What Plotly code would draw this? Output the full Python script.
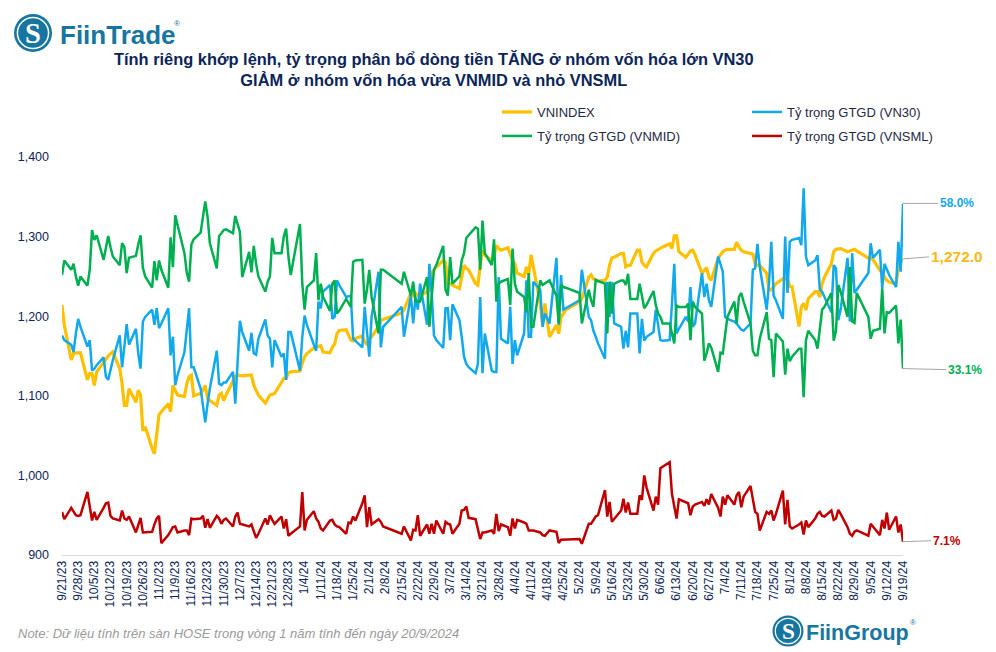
import pandas as pd
import plotly.graph_objects as go

N = None
# One row per week, Thu Fri Mon Tue Wed. N marks market holidays.
dates = pd.bdate_range("2023-09-21", "2024-09-19")

vnindex = [
 1214,1189,1145,1153,1154, 1154,1154,1120,1128,1128, 1113,1130,1143,1147,1150, 1153,1155,1134,1115,1088,
 1088,1109,1092,1107,1101, 1056,1061,1034,1027,1052, 1076,1080,1090,1080,1113, 1107,1101,1099,1115,1124,
 1126,1100,1103,1107,1113, 1097,1094,1088,1101,1103, 1094,1101,1120,1124,1126, 1125,1125,1126,1126,1113,
 1107,1101,1091,1097,1101, 1102,1103,1117,1122,1122, 1129,1130,N,1131,1141, 1149,1153,1160,1161,1162,
 1163,1155,1154,1161,1165, 1178,1182,1183,1176,1170, 1169,1172,1175,1168,1164, 1172,1174,1187,1195,1196,
 N,N,N,N,N, 1204,1208,1229,1226,1229, 1226,1225,1231,1233,1254, 1258,1262,1270,1268,1241,
 1241,1239,1235,1249,1264, 1260,1258,1241,1239,1264, 1283,1277,1270,1275,1289, 1285,1283,1286,1279,1270,
 1266,1254,1250,1262,1252, 1277,1262,1216,1189,1216, N,1174,1189,1178,1199, 1203,1208,N,N,N,
 1218,1222,1249,1252,1247, 1245,1244,1245,1249,1264, 1273,1274,1279,1279,1262, 1264,1264,1283,1283,1268,
 1264,1262,1279,1282,1284, 1286,1287,1291,1285,1301, 1301,1281,1274,1278,1282, 1283,1277,1254,1258,1261,
 1249,1245,1273,1277,1281, 1283,1284,1284,1293,1287, 1283,1281,1279,1278,1266, 1264,1264,1254,1233,1233,
 1237,1241,1247,1247,1247, 1237,1237,1187,1212,1216, 1208,1222,1231,1231,1224, 1241,1249,1266,1281,1284,
 1285,1285,1281,1282,1283, 1284,1282,N,N,1273, 1273,1271,1258,1254,1249, 1245,1243,1241,1260,1268,
 1272,
]
# Shares below are read against the left-hand scale; the hidden right-hand axis turns them into %.
vn30_read = [
 1176,1170,1164,1155,1178, 1197,1187,1162,1170,1132, 1134,1138,1148,1124,1120, 1134,1145,1176,1136,1162,
 1190,1164,1184,1153,1134, 1193,1199,1208,1189,1210, 1185,1191,1210,1151,1174, 1113,1126,1155,1187,1210,
 1136,1136,1109,1086,1067, 1090,1109,1157,1115,1113, 1117,1117,1130,1090,1136, 1194,1180,1157,1179,1153,
 1152,1172,1196,1176,1172, 1136,1170,1149,1153,1120, 1180,1180,N,1132,1174, 1201,1189,1164,1157,1218,
 1210,1231,1239,1197,1199, 1245,1239,1224,1225,1226, 1172,1169,1161,1212,1178, 1149,1199,1256,1161,1187,
 N,N,N,N,N, 1212,1174,1226,1191,1224, 1208,1241,1189,1266,1229, 1176,1170,1160,1210,1210,
 1170,1215,1195,1174,1149, 1140,1136,1128,1140,1224, 1128,1178,1132,1130,1130, 1249,1172,1166,1212,1140,
 1170,1151,1178,1245,1174, 1174,1243,1233,1187,1203, N,1191,1273,1189,1252, 1208,1210,N,N,N,
 1220,1258,1199,1195,1182, 1174,1166,1147,1243,1199, 1243,1191,1187,1159,1182, 1161,1203,1203,1153,1197,
 1169,1174,1180,1208,1187, 1170,1169,1170,1216,1266, 1178,1184,1199,1193,1237, 1187,1191,1254,1224,1241,
 1220,1212,1275,1266,1256, 1199,1197,1193,1191,1187, 1183,1182,1191,1258,1260, 1291,1262,1208,1241,1293,
 1226,1220,1197,1300,1229, 1293,1296,1298,1289,1361, 1275,1264,1270,1277,1233, 1231,1224,1205,1264,1260,
 1195,1208,1273,1193,1279, 1229,1233,N,N,1254, 1292,1273,1283,1235,1266, 1258,1252,1237,1293,1256,
 1342,
]
vnmid_read = [
 1252,1270,1258,1266,1250, 1238,1250,1238,1258,1308, 1296,1302,1271,1287,1301, 1287,1275,1264,1292,1287,
 1254,1273,1276,1290,1302, 1261,1250,1236,1269,1245, 1270,1258,1236,1299,1262, 1327,1315,1279,1255,1243,
 1290,1297,1305,1326,1344, 1325,1292,1260,1301,1304, 1308,1309,1304,1326,1317, 1306,1249,1281,1255,1288,
 1266,1250,1231,1243,1250, 1298,1279,1279,1300,1310, 1275,1252,N,1316,1241, 1208,1237,1245,1279,1220,
 1241,1224,1207,1241,1245, 1203,1207,1222,1216,1212, 1268,1270,1271,1216,1233, 1258,1224,1178,1258,1258,
 N,N,N,N,N, 1241,1256,1226,1243,1218, 1218,1218,1249,1187,1224, 1258,1264,1288,1233,1226,
 1274,1241,1250,1270,1279, 1298,1302,1312,1310,1258, 1320,1279,1264,1297,1218, 1241,1243,1247,1214,1285,
 1241,1231,1224,1205,1254, 1187,1187,1245,1239,1241, N,1245,1226,1191,1239, 1237,1236,N,N,N,
 1229,1191,1233,1220,1212, 1246,1244,1241,1178,1243, 1203,1241,1245,1245,1239, 1253,1222,1222,1241,1226,
 1210,1214,1232,1214,1203, 1199,1191,1191,1178,1166, 1213,1212,1212,1216,1170, 1218,1212,1203,1144,1153,
 1166,1161,1130,1154,1153, 1178,1199,1218,1191,1224, 1229,1218,1191,1157,1151, 1151,1172,1205,1172,1170,
 1123,1178,1168,1127,1159, 1143,1149,1159,1159,1098, 1170,1182,1170,1159,1182, 1208,1212,1229,1169,1182,
 1239,1231,1199,1262,1193, 1192,1229,N,N,1199, 1172,1182,1184,1235,1178, 1205,1204,1213,1166,1196,
 1134,
]
vnsml_read = [
 954,945,959,954,950, 949,950,979,961,943, 954,944,959,965,966, 949,946,943,956,946,
 944,948,928,938,947, 928,928,929,938,946, 949,915,925,931,935, 936,928,931,931,925,
 946,945,946,949,934, 945,934,949,946,939, 944,946,936,948,953, 939,938,936,938,929,
 922,927,946,938,950, 944,939,948,933,945, 924,927,N,936,979, 931,944,955,946,942,
 933,931,943,944,938, 936,935,927,941,940, 948,943,965,975,935, 960,938,945,942,936,
 N,N,N,N,N, 927,936,918,932,931, 950,924,938,927,939, 927,943,927,942,939,
 938,927,939,956,957, 961,947,945,931,920, 928,928,931,927,952, 930,938,935,924,946,
 933,944,941,939,931, 931,931,928,925,924, N,931,929,915,919, 919,919,N,N,N,
 920,914,939,939,944, 948,950,982,948,967, 942,945,956,971,953, 966,952,952,975,969,
 1000,985,956,973,963, 1009,1011,1017,977,961, 946,970,966,965,950, 961,963,967,962,970,
 963,977,959,948,973, 963,975,963,975,979, 960,973,987,969,954, 952,931,954,952,956,
 943,952,981,938,969, 936,933,938,941,926, 943,935,946,952,954, 949,948,956,944,946,
 957,952,935,927,924, 929,931,N,N,924, 939,936,925,944,933, 953,932,948,928,938,
 917,
]
share = lambda a: [None if v is None else round(5 + (v - 900) * 0.12, 1) for v in a]
vn30, vnmid, vnsml = share(vn30_read), share(vnmid_read), share(vnsml_read)
names = ["VNINDEX", "Tỷ trọng GTGD (VN30)", "Tỷ trọng GTGD (VNMID)", "Tỷ trọng GTGD (VNSML)"]
colors = ["#FFC000", "#12A9EC", "#00B050", "#C00000"]
title_lines = "Tính riêng khớp lệnh, tỷ trọng phân bổ dòng tiền TĂNG ở nhóm vốn hóa lớn VN30<br>GIẢM ở nhóm vốn hóa vừa VNMID và nhỏ VNSML"
note = "Note: Dữ liệu tính trên sàn HOSE trong vòng 1 năm tính đến ngày 20/9/2024"

W, H = 996, 652
L, R, T, B = 62, 903, 157, 555
px = lambda x: (x - L) / (R - L)
py = lambda y: (B - y) / (B - T)
FONT = "Liberation Sans"
NAVY = "#0B2559"
TEAL = "#17769F"

fig = go.Figure()
fig.add_scatter(x=dates, y=vnindex, name=names[0], mode="lines", connectgaps=True, cliponaxis=False,
                line=dict(color=colors[0], width=3.2), legend="legend")
for vals, nm, c, lg in zip([vn30, vnmid, vnsml], names[1:], colors[1:], ["legend", "legend2", "legend2"]):
    fig.add_scatter(x=dates, y=vals, name=nm, yaxis="y2", mode="lines", connectgaps=True, cliponaxis=False,
                    line=dict(color=c, width=2.5), legend=lg)

def end_label(text, y, yref, color, size, ax, ay):
    fig.add_annotation(x=dates[-1], y=y, xref="x", yref=yref, text=f"<b>{text}</b>", showarrow=True,
                       arrowhead=0, arrowwidth=1, arrowcolor="#A6A6A6", ax=ax, ay=ay, standoff=0,
                       font=dict(family=FONT, size=size, color=color), xanchor="left", yanchor="middle")

end_label("58.0%", vn30[-1], "y2", colors[1], 12, 35, 0)
end_label("1,272.0", vnindex[-1], "y", "#FDB913", 15.5, 26, -2)
end_label("33.1%", vnmid[-1], "y2", colors[2], 12, 43, 1)
end_label("7.1%", vnsml[-1], "y2", colors[3], 12, 28, -1)

fig.add_annotation(x=px(434), y=py(69.5), xref="paper", yref="paper", text=f"<b>{title_lines}</b>", showarrow=False,
                   font=dict(family=FONT, size=16.4, color=NAVY), align="center", xanchor="center", yanchor="middle")
fig.add_annotation(x=px(16), y=py(633), xref="paper", yref="paper", text=f"<i>{note}</i>", showarrow=False,
                   font=dict(family=FONT, size=13, color="#9A9A9A"), xanchor="left", yanchor="middle")

def logo(cx, cy, r, word, size, tx, rx, ry):
    for rad, col in ((r, TEAL), (r * 0.86, "#FFFFFF"), (r * 0.78, TEAL)):
        fig.add_shape(type="circle", xref="paper", yref="paper", x0=px(cx - rad), x1=px(cx + rad),
                      y0=py(cy + rad), y1=py(cy - rad), fillcolor=col, line_width=0, layer="above")
    fig.add_annotation(x=px(cx), y=py(cy), xref="paper", yref="paper", text="<b>S</b>", showarrow=False,
                       xanchor="center", yanchor="middle",
                       font=dict(family="Liberation Serif", size=r * 1.5, color="#FFFFFF"))
    fig.add_annotation(x=px(tx), y=py(cy + 2), xref="paper", yref="paper", text=f"<b>{word}</b>", showarrow=False,
                       xanchor="left", yanchor="middle", font=dict(family=FONT, size=size, color=TEAL))
    fig.add_annotation(x=px(rx), y=py(ry), xref="paper", yref="paper", text="®", showarrow=False,
                       xanchor="center", yanchor="middle", font=dict(family=FONT, size=8, color=TEAL))

logo(33, 33, 19, "FiinTrade", 26, 58, 177, 24)
logo(788, 631, 15.5, "FiinGroup", 21.5, 804, 913, 622)

legend_style = dict(orientation="h", x=px(497), xanchor="left", yanchor="top",
                    entrywidth=205, entrywidthmode="pixels", itemwidth=30,
                    font=dict(family=FONT, size=13, color="#1F2A44"), bgcolor="rgba(0,0,0,0)")

fig.update_layout(
    width=W, height=H, margin=dict(l=L, r=W - R, t=T, b=H - B, autoexpand=False),
    paper_bgcolor="white", plot_bgcolor="white",
    font=dict(family=FONT, size=12, color=NAVY),
    showlegend=True,
    legend=dict(y=py(97), **legend_style),
    legend2=dict(y=py(121), **legend_style),
    xaxis=dict(type="date", range=[dates[0], dates[-1]], tick0=dates[0], dtick=7 * 86400000,
               tickformat="%-m/%-d/%y", tickangle=-90, ticks="", showgrid=False, zeroline=False,
               showline=True, linecolor="#D9D9D9", linewidth=1, tickfont=dict(size=12, color=NAVY)),
    yaxis=dict(range=[900, 1400], dtick=100, tickformat=",", ticks="", showgrid=False, zeroline=False,
               showline=False, ticklabelstandoff=12, tickfont=dict(size=12.5, color=NAVY)),
    yaxis2=dict(range=[5, 65], overlaying="y", side="right", visible=False),
)
fig.write_html("out.html", config={"displayModeBar": False}, post_script="document.body.style.margin='0';")
